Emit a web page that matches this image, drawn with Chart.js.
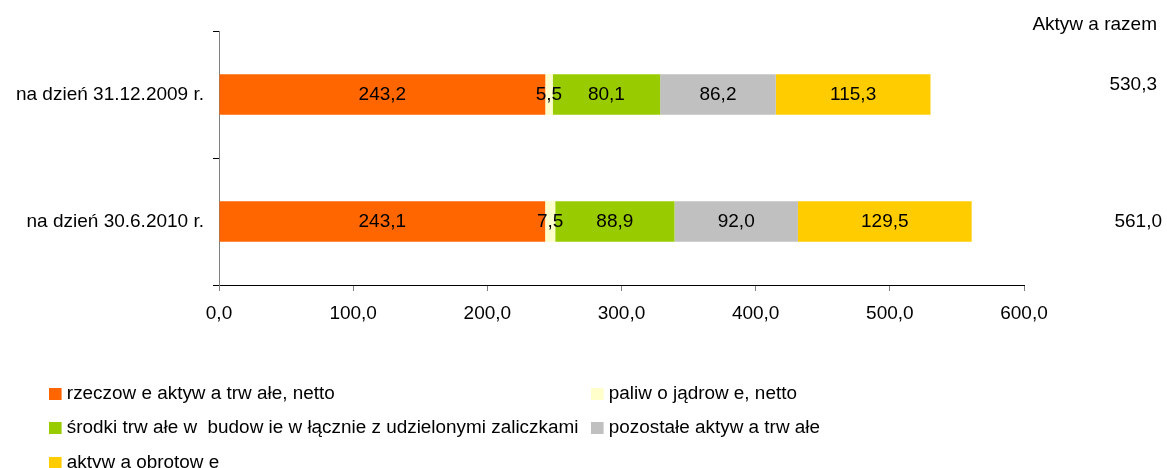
<!DOCTYPE html>
<html>
<head>
<meta charset="utf-8">
<script src="https://cdn.jsdelivr.net/npm/chart.js@4/dist/chart.umd.min.js"></script>
<style>
  body { margin: 0; background: #fff; }
  #wrap { position: relative; width: 1167px; height: 468px; }
  #legend { position: absolute; left: 0; top: 0; width: 1167px; height: 468px; pointer-events: none;
            font-family: "Liberation Sans", Arial, sans-serif; font-size: 18px; color: #000; }
  .item { position: absolute; white-space: pre; line-height: 20px; transform: scaleX(1.05); transform-origin: left center; }
  .box { display: inline-block; width: 12px; height: 12px; margin-right: 5px; vertical-align: -1px; }
</style>
</head>
<body>
<div id="wrap">
  <canvas id="myChart" width="1167" height="468"></canvas>
  <div id="legend"></div>
</div>
<script>
'use strict'
let categories = ['na dzień 31.12.2009 r.', 'na dzień 30.6.2010 r.'];
let seriesNames = ['rzeczow e aktyw a trw ałe, netto', 'paliw o jądrow e, netto',
  'środki trw ałe w  budow ie w łącznie z udzielonymi zaliczkami', 'pozostałe aktyw a trw ałe', 'aktyw a obrotow e'];
let rzeczowe = [243.2, 243.1];
let paliwo = [5.5, 7.5];
let srodki = [80.1, 88.9];
let pozostale = [86.2, 92.0];
let obrotowe = [115.3, 129.5];
let totals = [530.3, 561.0];
let totalTitle = 'Aktyw a razem';
let xTicks = [0, 100, 200, 300, 400, 500, 600];

let colors = ['#FF6600', '#FFFFCC', '#99CC00', '#C0C0C0', '#FFCC00'];
let allSeries = [rzeczowe, paliwo, srodki, pozostale, obrotowe];
let font = '"Liberation Sans", Arial, sans-serif';

function fmt(v) {
  return v.toFixed(1).replace('.', ',');
}

// values in the middle of each segment + totals on the right
let labelPlugin = {
  id: 'labels',
  afterDatasetsDraw(chart) {
    let ctx = chart.ctx;
    ctx.save();
    ctx.fillStyle = '#000';
    ctx.font = '19px ' + font;
    ctx.textAlign = 'center';
    ctx.textBaseline = 'middle';
    chart.data.datasets.forEach((ds, i) => {
      let meta = chart.getDatasetMeta(i);
      meta.data.forEach((bar, j) => {
        ctx.fillText(fmt(ds.data[j]), (bar.x + bar.base) / 2, bar.y);
      });
    });
    let yScale = chart.scales.y;
    ctx.textAlign = 'right';
    ctx.fillText(totalTitle, 1157, 25);
    totals.forEach((t, j) => {
      let y = yScale.getPixelForValue(j);
      if (j === 0) ctx.fillText(fmt(t), 1157, y - 10);
      else ctx.fillText(fmt(t), 1162, y);
    });
    ctx.restore();
  }
};

let ctx = document.getElementById('myChart').getContext('2d');
let myChart = new Chart(ctx, {
  type: 'bar',
  data: {
    labels: categories,
    datasets: allSeries.map((d, i) => ({
      label: seriesNames[i],
      data: d,
      backgroundColor: colors[i],
      borderWidth: 0,
      barPercentage: 0.32,
      categoryPercentage: 1
    }))
  },
  options: {
    indexAxis: 'y',
    responsive: false,
    animation: false,
    layout: { padding: { left: 0, right: 143, top: 31, bottom: 133 } },
    plugins: { legend: { display: false }, tooltip: { enabled: false } },
    scales: {
      x: {
        stacked: true,
        min: 0,
        max: 600,
        afterBuildTicks(scale) { scale.ticks = xTicks.map(v => ({ value: v })); },
        afterFit(scale) { scale.height = 50; },
        border: { color: '#000', width: 1 },
        grid: { drawOnChartArea: false, tickLength: 6, color: '#808080' },
        ticks: { color: '#000', font: { family: font, size: 19 }, padding: 11, maxRotation: 0,
                 callback: v => fmt(v) }
      },
      y: {
        stacked: true,
        afterFit(scale) { scale.width = 219; },
        border: { color: '#808080', width: 1 },
        grid: { drawOnChartArea: false, tickLength: 6, offset: true, color: '#000' },
        ticks: { color: '#000', font: { family: font, size: 19 }, padding: 9 }
      }
    }
  },
  plugins: [labelPlugin]
});

// legend in two columns, as in the original
let legend = document.getElementById('legend');
let spots = [[49, 383], [591, 383], [49, 417], [591, 417], [49, 452]];
seriesNames.forEach((name, i) => {
  let el = document.createElement('div');
  el.className = 'item';
  el.style.left = spots[i][0] + 'px';
  el.style.top = spots[i][1] + 'px';
  el.innerHTML = '<span class="box" style="background:' + colors[i] + '"></span>' + name;
  legend.appendChild(el);
});
</script>
</body>
</html>
